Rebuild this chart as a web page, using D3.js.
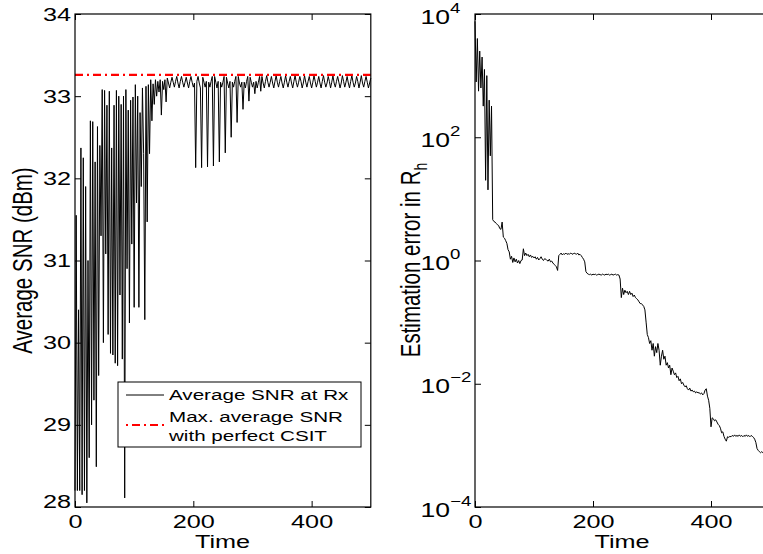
<!DOCTYPE html>
<html>
<head>
<meta charset="utf-8">
<script src="https://cdn.jsdelivr.net/npm/d3@7"></script>
<style>
body { margin: 0; background: #fff; }
text { font-family: "Liberation Sans", Arial, Helvetica, sans-serif; fill: #000; }
</style>
</head>
<body>
<div id="chart"></div>
<script>
"use strict"

/* data, one sample every 2 time units (t = 0..500) */
let timeStep = 2;

let snrValues = [
    28.2, 31.55, 28.2, 30.4, 28.2, 32.37, 28.15, 32.25, 28.2, 31.9,
    28.05, 31.0, 28.6, 32.7, 29.0, 32.69, 29.3, 32.2, 28.49, 32.63,
    29.6, 32.4, 31.3, 33.08, 30.0, 33.07, 31.08, 32.89, 30.1, 33.06,
    29.87, 32.37, 29.85, 32.89, 29.75, 33.07, 29.72, 33.0, 30.58, 32.9,
    29.8, 33.0, 28.11, 33.08, 30.9, 32.83, 30.24, 32.95, 31.2, 32.99,
    30.43, 33.14, 31.7, 33.0, 30.43, 32.8, 31.9, 33.1, 32.3, 30.28,
    33.12, 31.47, 33.14, 32.3, 33.2, 32.7, 33.15, 32.9, 33.2, 33.0,
    33.18, 33.05, 33.2, 32.77, 33.18, 33.08, 33.2, 32.93,
    33.22, 33.16, 33.10, 33.17, 33.23, 33.17, 33.11, 33.18, 33.24, 33.16,
    33.10, 33.18, 33.24, 33.17, 33.11, 33.17, 33.23, 33.16, 33.10, 33.18,
    33.24, 33.17, 33.11, 33.16, 32.13, 33.18, 33.24, 33.16, 33.10, 32.13,
    33.23, 33.17, 33.11, 33.18, 32.14, 33.17, 33.11, 33.18, 33.24, 32.15,
    33.24, 33.17, 33.10, 33.18, 32.20, 33.17, 33.11, 33.17, 33.24, 32.31,
    33.23, 33.16, 33.10, 33.18, 32.50, 33.17, 33.11, 33.18, 33.24, 32.68,
    33.24, 33.16, 33.11, 33.17, 32.84, 33.17, 33.10, 33.18, 33.24, 32.94,
    33.23, 33.17, 33.11, 33.17, 33.03, 33.18, 33.10, 33.17, 33.24, 33.06,
    33.24, 33.16, 33.10, 33.18, 33.25, 33.17, 33.11, 33.17, 33.24, 33.16,
    33.10, 33.18, 33.25, 33.17, 33.11, 33.18, 33.24, 33.16, 33.10, 33.17,
    33.25, 33.17, 33.11, 33.18, 33.24, 33.16, 33.10, 33.18, 33.25, 33.17,
    33.11, 33.17, 33.24, 33.18, 33.10, 33.16, 33.25, 33.17, 33.11, 33.18,
    33.24, 33.16, 33.10, 33.17, 33.25, 33.18, 33.11, 33.17, 33.24, 33.16,
    33.10, 33.18, 33.25, 33.17, 33.11, 33.16, 33.24, 33.18, 33.10, 33.17,
    33.25, 33.16, 33.11, 33.18, 33.24, 33.17, 33.10, 33.16, 33.25, 33.18,
    33.11, 33.17, 33.24, 33.16, 33.10, 33.18, 33.25, 33.17, 33.11, 33.16,
    33.24, 33.18, 33.10, 33.17, 33.25, 33.16, 33.11, 33.18, 33.24, 33.17,
    33.10, 33.16, 33.22
];

let snrMax = 33.26; // max. average SNR with perfect CSIT

let errValues = [
    7600, 790, 4000, 560, 2500, 630, 2000, 320, 1260, 20,
    1000, 14, 400, 50, 320, 4.6, 4.3, 4.2, 4.0, 3.8,
    3.7, 3.3, 3.2, 4.2, 2.4, 2.3, 2.1, 1.9, 1.5, 1.38,
    1.05, 1.17, 0.93, 1.1, 0.95, 1.05, 0.91, 1.0, 0.89, 1.0,
    1.02, 1.55, 1.2, 1.32, 1.2, 1.26, 1.15, 1.23, 1.12, 1.17,
    1.1, 1.15, 1.05, 1.12, 1.02, 1.07, 1.15, 1.05, 1.0, 1.07,
    1.05, 1.0, 0.98, 1.05, 0.95, 0.98, 0.91, 0.87, 0.83, 0.79,
    0.69, 1.2, 1.26, 1.32, 1.23, 1.29, 1.26, 1.32, 1.26, 1.29,
    1.26, 1.32, 1.29, 1.26, 1.32, 1.29, 1.26, 1.32, 1.23, 1.26,
    1.2, 1.12, 1.05, 0.95, 0.66, 0.62, 0.6, 0.59, 0.6, 0.58,
    0.6, 0.59, 0.6, 0.58, 0.59, 0.6, 0.59, 0.58, 0.6, 0.59,
    0.58, 0.6, 0.59, 0.6, 0.58, 0.59, 0.6, 0.58, 0.59, 0.6,
    0.58, 0.59, 0.58, 0.5, 0.25, 0.355, 0.28, 0.33, 0.3, 0.316,
    0.28, 0.316, 0.28, 0.295, 0.26, 0.275, 0.25, 0.24, 0.23, 0.214,
    0.2, 0.2, 0.19, 0.18, 0.158, 0.1, 0.063, 0.056, 0.045, 0.05,
    0.035, 0.045, 0.028, 0.04, 0.032, 0.045, 0.035, 0.02, 0.028, 0.035,
    0.025, 0.028, 0.02, 0.022, 0.018, 0.02, 0.014, 0.018, 0.016, 0.014,
    0.015, 0.0126, 0.0132, 0.0112, 0.012, 0.01, 0.0105, 0.0095, 0.0089, 0.0093,
    0.0083, 0.0079, 0.0085, 0.0076, 0.0079, 0.0074, 0.0076, 0.0071, 0.0074, 0.0071,
    0.0072, 0.0068, 0.0071, 0.0066, 0.0069, 0.0079, 0.0083, 0.0063, 0.0054, 0.004,
    0.002, 0.0028, 0.0027, 0.0025, 0.0026, 0.0024, 0.0022, 0.0021, 0.0019, 0.0016,
    0.00166, 0.0014, 0.00126, 0.00117, 0.00138, 0.00135, 0.0014, 0.00138, 0.00145, 0.0014,
    0.00148, 0.0014, 0.00145, 0.0014, 0.00148, 0.0014, 0.00145, 0.00138, 0.00145, 0.0014,
    0.00148, 0.0014, 0.00145, 0.00138, 0.00145, 0.0014, 0.00135, 0.00126, 0.00112, 0.00089,
    0.00083, 0.00079, 0.00076, 0.00079, 0.00076, 0.00078, 0.00076, 0.00079, 0.00076, 0.00078,
    0.00076
];

let timeTicks = [0, 200, 400];
let snrTicks = [28, 29, 30, 31, 32, 33, 34];
let errTicks = [1e-4, 1e-2, 1, 1e2, 1e4];
let legendLabels = [["Average SNR at Rx"], ["Max. average SNR", "with perfect CSIT"]];

/* the original figure is stretched sideways, so all text gets this x scale */
let SX = 1.33;

let svg = d3.select("#chart")
    .append("svg")
    .attr("width", 763)
    .attr("height", 554);

/* scales */
let xL = d3.scaleLinear().domain([0, 500]).range([75, 370.8]);
let yL = d3.scaleLinear().domain([28, 34]).range([507, 14]);
let xR = d3.scaleLinear().domain([0, 500]).range([475, 770]);
let yR = d3.scaleLog().domain([1e-4, 1e4]).range([507, 14]);

function addText(x, y, str, size, rotate) {
    let t = svg.append("text")
        .attr("transform", "translate(" + x + "," + y + ") scale(" + SX + ",1)" + (rotate ? " rotate(-90)" : ""))
        .attr("text-anchor", "middle")
        .attr("font-size", size)
        .text(str);
    return t;
}

/* ---------- left panel ---------- */
let snrLine = d3.line()
    .x((d, i) => xL(i * timeStep))
    .y(d => yL(d));

svg.append("path")
    .datum(snrValues)
    .attr("d", snrLine)
    .attr("fill", "none")
    .attr("stroke", "black")
    .attr("stroke-width", 1);

svg.append("line")
    .attr("x1", xL(0))
    .attr("x2", xL(500))
    .attr("y1", yL(snrMax))
    .attr("y2", yL(snrMax))
    .attr("stroke", "#ff0000")
    .attr("stroke-width", 2.2)
    .attr("stroke-dasharray", "8,4,2,4");

let axL = svg.append("g").attr("transform", "translate(75,0)")
    .call(d3.axisLeft(yL).tickValues(snrTicks).tickSize(-6).tickSizeOuter(0).tickPadding(3).tickFormat(d3.format("d")));
axL.selectAll("text")
    .attr("font-size", 19)
    .attr("font-family", null)
    .attr("transform", "scale(" + SX + ",1)");
axL.selectAll(".tick text").filter(d => d === 28).attr("y", -5.5);

svg.append("g").attr("transform", "translate(370.8,0)")
    .call(d3.axisRight(yL).tickValues(snrTicks).tickSize(-6).tickSizeOuter(0).tickFormat(""));

let axLB = svg.append("g").attr("transform", "translate(0,507)")
    .call(d3.axisBottom(xL).tickValues(timeTicks).tickSize(-6).tickSizeOuter(0).tickPadding(8).tickFormat(d3.format("d")));
axLB.selectAll("text")
    .attr("font-size", 19)
    .attr("font-family", null)
    .attr("transform", "scale(" + SX + ",1)");

svg.append("g").attr("transform", "translate(0,14)")
    .call(d3.axisTop(xL).tickValues(timeTicks).tickSize(-6).tickSizeOuter(0).tickFormat(""));

svg.selectAll(".domain").remove();

svg.append("rect")
    .attr("x", 75).attr("y", 14)
    .attr("width", 295.8).attr("height", 493)
    .attr("fill", "none")
    .attr("stroke", "black")
    .attr("stroke-width", 1.2);

addText(222.5, 548, "Time", 19);
addText(32, 260.5, "Average SNR (dBm)", 20.5, true);

/* legend */
let legend = svg.append("g");
legend.append("rect")
    .attr("x", 118).attr("y", 382)
    .attr("width", 243).attr("height", 65)
    .attr("fill", "white")
    .attr("stroke", "black")
    .attr("stroke-width", 1);
legend.append("line")
    .attr("x1", 126).attr("x2", 164).attr("y1", 395).attr("y2", 395)
    .attr("stroke", "black").attr("stroke-width", 1);
legend.append("line")
    .attr("x1", 126).attr("x2", 164).attr("y1", 425).attr("y2", 425)
    .attr("stroke", "#ff0000").attr("stroke-width", 2.2)
    .attr("stroke-dasharray", "2,4,8,4");
let legendRows = [[400], [421.5, 441]];
legendLabels.forEach((lines, i) => {
    lines.forEach((s, j) => {
        legend.append("text")
            .attr("transform", "translate(169," + legendRows[i][j] + ") scale(" + SX + ",1)")
            .attr("font-size", 15.5)
            .text(s);
    });
});

/* ---------- right panel ---------- */
let errLine = d3.line()
    .x((d, i) => xR(i * timeStep))
    .y(d => yR(d));

svg.append("path")
    .datum(errValues)
    .attr("d", errLine)
    .attr("fill", "none")
    .attr("stroke", "black")
    .attr("stroke-width", 1);

let axR = svg.append("g").attr("transform", "translate(475,0)")
    .call(d3.axisLeft(yR).tickValues(errTicks).tickSize(-6).tickSizeOuter(0).tickFormat(""));
axR.selectAll(".tick text").remove();
axR.selectAll(".tick").append("text")
    .attr("transform", "scale(" + SX + ",1)")
    .attr("x", -41)
    .attr("y", 9)
    .attr("text-anchor", "start")
    .attr("fill", "#000")
    .attr("font-size", 20)
    .text("10")
    .append("tspan")
    .attr("dy", -11)
    .attr("font-size", 14)
    .text(d => {
        let e = Math.round(Math.log10(d));
        return e < 0 ? "\u2212" + (-e) : String(e);
    });

let axRB = svg.append("g").attr("transform", "translate(0,507)")
    .call(d3.axisBottom(xR).tickValues(timeTicks).tickSize(-6).tickSizeOuter(0).tickPadding(8).tickFormat(d3.format("d")));
axRB.selectAll("text")
    .attr("font-size", 19)
    .attr("font-family", null)
    .attr("transform", "scale(" + SX + ",1)");

svg.append("g").attr("transform", "translate(0,14)")
    .call(d3.axisTop(xR).tickValues(timeTicks).tickSize(-6).tickSizeOuter(0).tickFormat(""));

svg.selectAll(".domain").remove();

svg.append("rect")
    .attr("x", 475).attr("y", 14)
    .attr("width", 295).attr("height", 493)
    .attr("fill", "none")
    .attr("stroke", "black")
    .attr("stroke-width", 1.2);

addText(622, 548, "Time", 19);
let errLabel = addText(420, 260, "Estimation error in R", 20.5, true);
errLabel.append("tspan")
    .attr("dy", 5)
    .attr("font-size", 14)
    .text("h");
</script>
</body>
</html>
